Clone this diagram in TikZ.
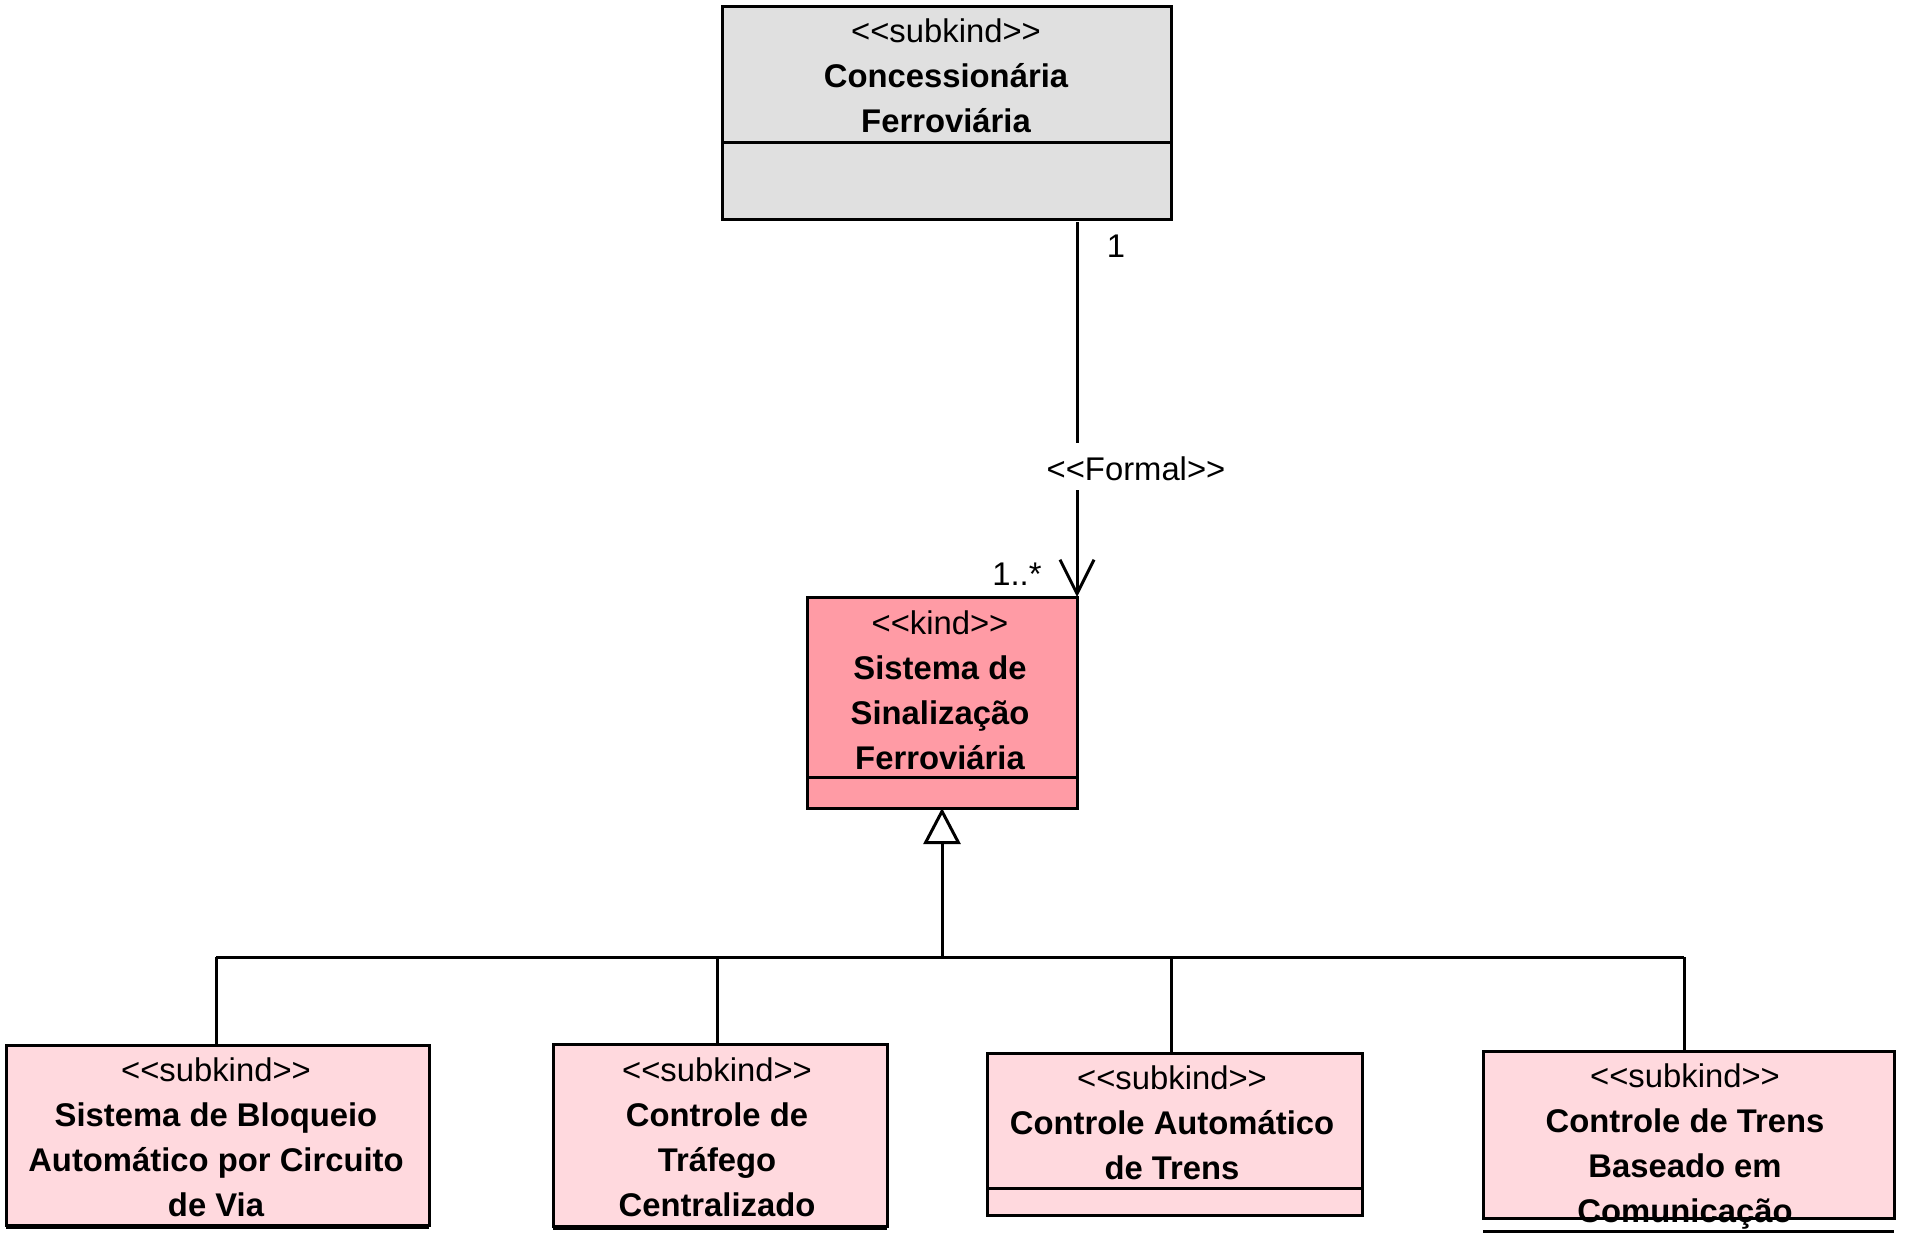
\documentclass[tikz,border=0pt]{standalone}
\usepackage{fontspec}
\newfontfamily\umlfont{Liberation Sans}
\usetikzlibrary{arrows.meta,fit}
\definecolor{grayfill}{RGB}{224,224,224}
\definecolor{kindfill}{RGB}{255,155,165}
\definecolor{subfill}{RGB}{255,217,222}
\tikzset{
  umlbox/.style={draw=black, line width=1.5pt, inner sep=0pt, outer sep=0pt, rectangle},
  txt/.style={font=\umlfont\fontsize{16.4}{19}\selectfont, inner sep=0pt, anchor=base},
  btxt/.style={font=\umlfont\bfseries\fontsize{16.4}{19}\selectfont, inner sep=0pt, anchor=base},
  conn/.style={draw=black, line width=1.5pt},
  sepline/.style={draw=black, line width=1.5pt}
}
\begin{document}
\begin{tikzpicture}[x=0.5pt,y=-0.5pt]
\useasboundingbox (0,0) rectangle (1905,1239);
\fill[white] (0,0) rectangle (1905,1239);

% boxes
\node[umlbox, fill=grayfill, fit={(722,6) (1171,219)}] (conc) {};
\node[umlbox, fill=kindfill, fit={(807,597) (1077,808)}] (kind) {};
\node[umlbox, fill=subfill, fit={(6,1045) (429,1225)}] (c1) {};
\node[umlbox, fill=subfill, fit={(553,1044) (887,1226)}] (c2) {};
\node[umlbox, fill=subfill, fit={(987,1053) (1362,1215)}] (c3) {};
\node[umlbox, fill=subfill, fit={(1483,1051) (1894,1218)}] (c4) {};

% compartment separators
\draw[sepline] (conc.west |- 0,142) -- (conc.east |- 0,142);
\draw[sepline] (kind.west |- 0,777) -- (kind.east |- 0,777);
\draw[sepline] (c1.west |- 0,1227) -- (c1.east |- 0,1227);
\draw[sepline] (c2.west |- 0,1228) -- (c2.east |- 0,1228);
\draw[sepline] (c3.west |- 0,1188) -- (c3.east |- 0,1188);
\draw[sepline] (c4.west |- 0,1231) -- (c4.east |- 0,1231);

% texts
\node[txt]  (conc-s) at (946,42)  {<<subkind>>};
\node[btxt] (conc-a) at (946,87)  {Concessionária};
\node[btxt] (conc-b) at (946,132) {Ferroviária};

\node[txt]  (kind-s) at (940,634) {<<kind>>};
\node[btxt] (kind-a) at (940,679) {Sistema de};
\node[btxt] (kind-b) at (940,724) {Sinalização};
\node[btxt] (kind-c) at (940,769) {Ferroviária};

\node[txt]  (c1-s) at (216,1081) {<<subkind>>};
\node[btxt] (c1-a) at (216,1126) {Sistema de Bloqueio};
\node[btxt] (c1-b) at (216,1171) {Automático por Circuito};
\node[btxt] (c1-c) at (216,1216) {de Via};

\node[txt]  (c2-s) at (717,1081) {<<subkind>>};
\node[btxt] (c2-a) at (717,1126) {Controle de};
\node[btxt] (c2-b) at (717,1171) {Tráfego};
\node[btxt] (c2-c) at (717,1216) {Centralizado};

\node[txt]  (c3-s) at (1172,1089) {<<subkind>>};
\node[btxt] (c3-a) at (1172,1134) {Controle Automático};
\node[btxt] (c3-b) at (1172,1179) {de Trens};

\node[txt]  (c4-s) at (1685,1087) {<<subkind>>};
\node[btxt] (c4-a) at (1685,1132) {Controle de Trens};
\node[btxt] (c4-b) at (1685,1177) {Baseado em};
\node[btxt] (c4-c) at (1685,1222) {Comunicação};

% association
\coordinate (as0) at (1077,222);
\coordinate (as1) at (1077,443);
\coordinate (as2) at (1077,490);
\draw[conn] (as0) -- (as1);
\draw[conn, -{Straight Barb[length=17pt,width=17pt]}] (as2) -- (kind.north east);
\node[txt] (formal) at (1136,480) {<<Formal>>};
\node[txt] (m1) at (1116,257) {1};
\node[txt, anchor=base east] (m2) at (1042,585) {1..*};

% generalization
\coordinate (bar) at (942,957);
\coordinate (b1) at (216,957);
\coordinate (b2) at (717,957);
\coordinate (b3) at (1171,957);
\coordinate (b4) at (1684,957);
\draw[conn] (b1) -- (b4);
\draw[conn] (b1) -- (b1 |- c1.north);
\draw[conn] (b2) -- (b2 |- c2.north);
\draw[conn] (b3) -- (b3 |- c3.north);
\draw[conn] (b4) -- (b4 |- c4.north);
\draw[conn, -{Triangle[open,length=18pt,width=18.5pt]}] (bar) -- (kind.south);
\end{tikzpicture}
\end{document}
